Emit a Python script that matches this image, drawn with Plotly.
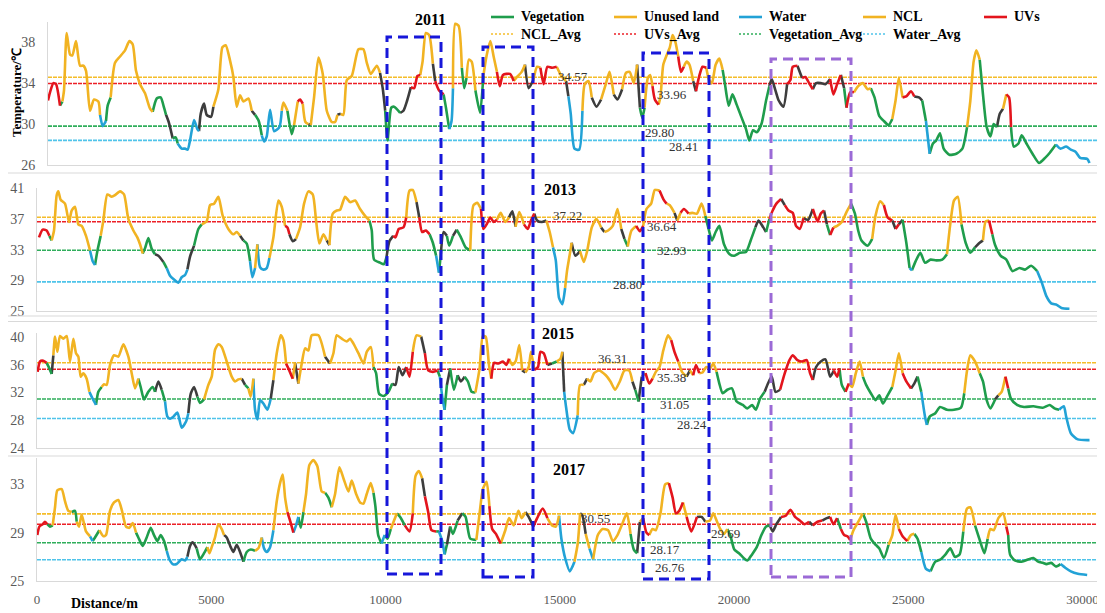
import plotly.graph_objects as go

# reference canvas is 1105x613; the page body adds an 8px offset, so the figure is
# drawn 8px smaller and every layout position is shifted by that offset.
REF_W, REF_H = 1105, 613
OFF = 8
W, H = REF_W - OFF, REF_H - OFF

years = ["2011", "2013", "2015", "2017"]
ncl_avg = [34.57, 37.22, 36.31, 30.55]
uvs_avg = [33.96, 36.64, 35.38, 29.69]
veg_avg = [29.80, 32.93, 31.05, 28.17]
water_avg = [28.41, 28.80, 28.24, 26.76]
y_ranges = [[26, 40], [25, 41], [24, 40.6], [25, 35.15]]
y_ticks = [[26, 30, 34, 38], [25, 29, 33, 37, 41], [24, 28, 32, 36, 40], [25, 29, 33]]
x_ticks = [0, 5000, 10000, 15000, 20000, 25000, 30000]
legend_names = [["Vegetation", "Unused land", "Water", "NCL", "UVs"],
                ["NCL_Avg", "UVs_Avg", "Vegetation_Avg", "Water_Avg"]]

# (distance m, temperature C, class of segment ending at this point)
# G = Vegetation, O = NCL / unused land, B = Water, R = UVs, K = other (grey)
profile_2011 = [
(0,32.3,"R"),(58,33.1,"R"),(155,34.0,"R"),(232,33.9,"R"),(348,31.8,"R"),(416,32.2,"G"),(464,33.3,"O"),
(541,38.9,"O"),(638,36.8,"O"),(706,36.7,"O"),(812,38.1,"O"),(928,35.7,"O"),(1025,35.7,"O"),(1102,35.2,"O"),
(1218,31.3,"O"),(1334,32.4,"O"),(1460,32.2,"O"),(1508,30.9,"O"),(1585,29.8,"B"),(1682,30.3,"B"),(1730,31.8,"G"),
(1817,32.6,"G"),(1943,36.0,"O"),(2088,36.6,"O"),(2233,37.2,"O"),(2359,38.1,"O"),(2455,37.8,"O"),(2552,35.2,"O"),
(2668,33.9,"O"),(2813,33.0,"O"),(2958,31.5,"O"),(3036,31.2,"O"),(3152,32.5,"G"),(3267,32.6,"G"),(3364,31.6,"G"),
(3422,30.9,"G"),(3509,30.1,"K"),(3615,28.6,"K"),(3702,28.7,"G"),(3760,28.1,"G"),(3876,27.6,"B"),(3973,27.6,"B"),
(4050,27.5,"B"),(4118,28.4,"B"),(4234,30.4,"B"),(4331,29.5,"B"),(4379,29.3,"B"),(4428,31.0,"K"),(4524,32.0,"K"),
(4601,30.9,"K"),(4727,30.7,"K"),(4795,31.7,"K"),(4940,33.4,"O"),(5056,37.5,"O"),(5152,37.7,"O"),(5278,36.2,"O"),
(5375,34.6,"O"),(5471,31.7,"O"),(5568,32.8,"O"),(5665,32.2,"O"),(5810,32.5,"O"),(5907,31.3,"O"),(6003,30.9,"K"),
(6110,30.3,"G"),(6197,28.9,"G"),(6264,28.3,"B"),(6342,28.8,"B"),(6438,31.4,"B"),(6554,29.3,"B"),(6709,29.7,"B"),
(6777,31.3,"B"),(6825,32.1,"O"),(6941,31.3,"O"),(7067,29.0,"G"),(7134,29.9,"G"),(7241,32.2,"O"),(7308,32.4,"R"),
(7386,32.0,"R"),(7463,30.2,"O"),(7550,30.0,"O"),(7618,29.9,"K"),(7714,32.6,"O"),(7840,36.5,"O"),(7966,34.9,"O"),
(8082,31.3,"O"),(8227,30.2,"O"),(8323,30.2,"O"),(8391,30.9,"O"),(8488,31.0,"K"),(8565,30.9,"O"),(8662,34.3,"O"),
(8807,34.7,"O"),(9000,37.3,"O"),(9145,37.3,"O"),(9242,36.0,"O"),(9358,34.9,"O"),(9532,35.7,"O"),(9627,35.0,"O"),
(9708,33.4,"K"),(9776,31.3,"K"),(9844,28.4,"G"),(9952,31.6,"G"),(10034,31.7,"G"),(10210,31.1,"G"),(10305,31.3,"K"),
(10413,32.3,"K"),(10521,33.6,"K"),(10616,33.5,"R"),(10711,34.7,"R"),(10792,34.8,"R"),(10860,36.1,"O"),(10955,38.9,"O"),
(11050,38.7,"O"),(11158,35.9,"O"),(11226,34.2,"K"),(11334,33.3,"R"),(11470,32.9,"R"),(11538,31.6,"G"),(11633,29.5,"G"),
(11700,30.3,"B"),(11741,33.5,"B"),(11809,39.8,"O"),(11904,39.6,"O"),(11998,35.5,"O"),(12066,33.5,"G"),(12134,34.5,"G"),
(12202,36.3,"O"),(12283,36.1,"O"),(12391,33.3,"O"),(12527,31.1,"G"),(12622,34.7,"G"),(12717,36.7,"O"),(12825,38.1,"O"),
(12920,36.6,"O"),(13015,35.1,"O"),(13096,33.7,"R"),(13191,34.8,"R"),(13394,34.9,"R"),(13502,34.2,"R"),(13597,34.6,"O"),
(13733,35.1,"O"),(13828,35.8,"O"),(13936,33.5,"K"),(14072,34.3,"K"),(14180,35.6,"O"),(14275,35.5,"O"),(14370,33.9,"R"),
(14478,35.6,"R"),(14613,35.5,"R"),(14749,35.6,"R"),(14885,34.7,"O"),(15020,34.2,"O"),(15088,32.7,"K"),(15156,31.0,"B"),
(15264,27.6,"B"),(15400,27.5,"B"),(15494,31.3,"B"),(15562,33.9,"O"),(15670,34.2,"O"),(15765,32.6,"O"),(15901,31.7,"K"),
(16036,32.4,"K"),(16172,33.9,"O"),(16280,35.1,"O"),(16402,32.9,"O"),(16510,32.4,"K"),(16646,33.4,"K"),(16754,35.0,"O"),
(16863,35.1,"O"),(16985,34.0,"O"),(17080,35.8,"O"),(17161,31.6,"K"),(17229,30.6,"G"),(17296,31.6,"G"),(17391,34.5,"O"),
(17459,34.8,"O"),(17526,33.7,"O"),(17594,32.4,"R"),(17702,31.9,"R"),(17757,32.7,"O"),(17838,35.8,"O"),(17933,36.7,"O"),
(18028,37.5,"O"),(18109,38.7,"O"),(18190,38.0,"O"),(18272,36.6,"O"),(18353,35.1,"R"),(18434,35.6,"R"),(18516,36.1,"O"),
(18597,35.8,"O"),(18705,34.2,"O"),(18787,33.2,"K"),(18882,34.7,"R"),(18977,35.6,"R"),(19085,35.5,"R"),(19166,34.3,"O"),
(19248,34.0,"O"),(19356,35.8,"O"),(19464,36.4,"O"),(19559,35.3,"O"),(19627,33.9,"G"),(19735,31.8,"G"),(19844,32.9,"G"),
(19966,31.9,"G"),(20101,30.7,"G"),(20237,29.5,"G"),(20332,28.4,"G"),(20440,29.4,"G"),(20548,29.2,"G"),(20684,30.0,"G"),
(20819,32.3,"G"),(20914,33.7,"G"),(20982,34.4,"K"),(21090,33.3,"K"),(21185,32.3,"K"),(21321,31.7,"K"),(21429,33.9,"K"),
(21524,34.3,"R"),(21592,35.6,"R"),(21727,35.7,"R"),(21863,34.5,"K"),(21958,34.6,"R"),(22066,34.0,"R"),(22174,33.4,"R"),
(22269,34.0,"K"),(22405,34.0,"K"),(22540,33.9,"K"),(22676,34.4,"K"),(22771,32.9,"R"),(22879,33.9,"R"),(22987,34.8,"R"),
(23082,33.5,"K"),(23150,31.6,"G"),(23258,33.1,"R"),(23366,33.1,"R"),(23489,33.7,"O"),(23624,34.0,"O"),(23760,33.4,"O"),
(23855,33.5,"O"),(23963,32.6,"G"),(24098,30.8,"G"),(24234,30.3,"G"),(24370,29.9,"G"),(24478,30.5,"G"),(24573,32.3,"O"),
(24668,34.5,"O"),(24776,32.6,"O"),(24884,32.7,"R"),(25020,33.2,"R"),(25115,32.7,"R"),(25250,32.6,"K"),(25345,32.3,"K"),
(25454,30.3,"G"),(25562,27.1,"B"),(25657,28.1,"G"),(25752,28.4,"G"),(25860,29.1,"G"),(25968,27.6,"G"),(26131,27.0,"G"),
(26334,27.1,"G"),(26510,27.6,"G"),(26646,29.7,"G"),(26741,32.3,"O"),(26836,36.1,"O"),(26917,37.2,"O"),(27012,36.3,"O"),
(27107,32.9,"G"),(27215,29.7,"G"),(27323,28.8,"G"),(27418,30.0,"G"),(27513,29.7,"G"),(27594,31.0,"K"),(27689,31.5,"K"),
(27784,32.9,"O"),(27865,32.6,"R"),(27920,29.7,"R"),(28001,27.8,"G"),(28136,28.1,"G"),(28231,28.9,"G"),(28367,28.1,"G"),
(28543,27.1,"G"),(28733,26.2,"G"),(28909,26.7,"G"),(29045,27.2,"G"),(29221,28.0,"G"),(29356,27.6,"B"),(29519,27.8,"B"),
(29654,27.5,"B"),(29790,27.3,"B"),(29925,26.7,"B"),(30128,26.6,"B"),(30196,26.2,"B"),
]

profile_2013 = [
(57,34.6,"R"),(163,35.6,"R"),(277,35.5,"R"),(354,34.8,"R"),(421,34.2,"G"),(488,35.5,"O"),(564,40.1,"O"),(612,40.6,"O"),
(679,39.5,"O"),(803,39.0,"O"),(918,36.6,"O"),(995,38.1,"O"),(1090,38.6,"O"),(1186,36.3,"O"),(1282,36.1,"O"),(1406,34.8,"O"),
(1521,32.9,"O"),(1598,31.5,"B"),(1665,31.0,"B"),(1731,32.8,"G"),(1827,34.8,"G"),(1904,36.8,"O"),(2019,40.2,"O"),(2143,39.9,"O"),
(2239,40.1,"O"),(2382,40.6,"O"),(2497,40.2,"O"),(2621,37.0,"O"),(2765,35.5,"O"),(2879,34.6,"O"),(2956,33.7,"O"),(3033,32.5,"O"),
(3100,33.2,"G"),(3195,34.5,"G"),(3291,33.1,"G"),(3387,32.4,"G"),(3482,32.2,"K"),(3626,31.4,"K"),(3721,30.6,"G"),(3817,29.6,"B"),
(3932,29.1,"B"),(4056,28.7,"B"),(4152,29.4,"B"),(4248,29.7,"B"),(4315,30.4,"B"),(4391,32.1,"K"),(4506,33.5,"K"),(4630,35.7,"G"),
(4726,36.3,"G"),(4869,36.7,"O"),(4965,38.8,"O"),(5080,39.0,"O"),(5204,39.9,"O"),(5329,37.4,"O"),(5491,35.7,"O"),(5635,35.0,"O"),
(5731,35.3,"O"),(5826,34.8,"O"),(5922,34.2,"K"),(6018,33.8,"G"),(6113,31.5,"G"),(6180,29.4,"B"),(6257,30.6,"B"),(6324,33.7,"O"),
(6400,30.7,"B"),(6496,30.4,"B"),(6592,30.6,"B"),(6668,31.9,"B"),(6783,34.6,"O"),(6926,39.4,"O"),(7022,38.6,"O"),(7118,36.1,"O"),
(7185,35.9,"R"),(7242,35.0,"R"),(7338,34.1,"K"),(7433,34.4,"K"),(7548,35.9,"O"),(7663,39.0,"O"),(7787,40.6,"O"),(7912,40.2,"O"),
(8007,36.8,"O"),(8103,33.8,"O"),(8218,35.0,"O"),(8313,34.2,"O"),(8390,33.6,"K"),(8486,37.7,"O"),(8601,38.1,"O"),(8696,38.2,"O"),
(8840,39.9,"O"),(8983,39.2,"O"),(9127,39.4,"O"),(9270,38.3,"O"),(9414,37.4,"O"),(9538,36.8,"O"),(9605,35.5,"G"),(9672,31.7,"G"),
(9843,31.3,"G"),(9950,31.1,"G"),(10031,32.1,"G"),(10111,34.1,"K"),(10219,34.8,"K"),(10286,34.6,"R"),(10379,35.7,"R"),(10514,35.9,"R"),
(10594,37.2,"R"),(10688,40.7,"O"),(10782,40.8,"O"),(10889,39.2,"O"),(10969,37.2,"K"),(11050,35.3,"R"),(11157,35.5,"R"),(11264,35.0,"R"),
(11358,33.9,"G"),(11452,32.2,"G"),(11533,30.0,"B"),(11586,32.4,"G"),(11667,35.3,"K"),(11761,34.8,"K"),(11828,33.5,"G"),(11935,34.8,"G"),
(12042,35.6,"K"),(12163,34.6,"G"),(12297,33.3,"G"),(12431,32.9,"G"),(12525,38.8,"O"),(12632,39.1,"O"),(12739,38.3,"O"),(12806,35.7,"R"),
(12900,36.3,"R"),(13008,37.2,"R"),(13102,36.6,"R"),(13196,36.9,"R"),(13303,37.8,"O"),(13437,36.6,"O"),(13544,37.2,"O"),(13638,38.0,"K"),
(13732,36.0,"K"),(13839,37.9,"O"),(13973,36.3,"O"),(14080,35.7,"R"),(14174,36.8,"R"),(14268,37.7,"R"),(14349,36.8,"K"),(14483,36.6,"K"),
(14617,36.8,"K"),(14711,35.3,"O"),(14805,33.3,"O"),(14885,31.6,"B"),(14979,26.7,"B"),(15073,25.9,"B"),(15153,28.0,"B"),(15207,30.2,"O"),
(15287,32.4,"O"),(15341,33.9,"O"),(15448,32.2,"K"),(15582,32.8,"K"),(15690,31.4,"O"),(15784,32.8,"O"),(15918,35.9,"O"),(16052,37.0,"O"),
(16186,35.9,"O"),(16280,35.3,"K"),(16387,35.5,"O"),(16521,36.1,"O"),(16655,38.3,"O"),(16763,35.7,"O"),(16856,34.4,"K"),(16950,33.4,"G"),
(17058,35.5,"O"),(17192,36.1,"O"),(17299,35.4,"R"),(17393,36.1,"R"),(17487,38.3,"O"),(17621,39.0,"O"),(17728,40.8,"O"),(17862,40.7,"O"),
(17970,39.6,"R"),(18063,39.0,"R"),(18157,38.8,"O"),(18291,37.8,"O"),(18372,36.8,"K"),(18466,37.8,"O"),(18560,38.3,"R"),(18694,37.7,"R"),
(18801,37.8,"O"),(18935,37.7,"O"),(19069,39.0,"O"),(19176,37.4,"O"),(19270,35.7,"G"),(19364,34.2,"G"),(19471,35.3,"G"),(19578,36.1,"G"),
(19712,33.7,"G"),(19873,32.4,"G"),(20008,32.2,"G"),(20169,32.6,"G"),(20343,32.7,"G"),(20477,34.2,"G"),(20612,35.9,"G"),(20705,36.8,"K"),
(20839,35.9,"K"),(20920,35.3,"K"),(21014,37.0,"G"),(21108,38.1,"R"),(21215,39.0,"R"),(21349,39.6,"R"),(21456,38.8,"K"),(21563,38.1,"R"),
(21684,37.8,"R"),(21778,36.1,"R"),(21885,35.7,"R"),(21992,37.1,"R"),(22126,36.9,"K"),(22260,38.3,"K"),(22395,36.7,"R"),(22489,37.7,"R"),
(22582,38.1,"R"),(22663,36.3,"K"),(22757,34.9,"G"),(22851,35.9,"R"),(22958,36.1,"O"),(23092,36.6,"O"),(23226,37.9,"O"),(23360,39.0,"O"),
(23468,37.7,"G"),(23562,35.5,"G"),(23656,34.2,"G"),(23830,33.5,"G"),(23964,34.4,"G"),(24058,37.4,"O"),(24192,39.3,"O"),(24299,38.8,"O"),
(24406,37.2,"R"),(24541,36.8,"R"),(24635,35.7,"K"),(24729,36.3,"R"),(24836,36.9,"K"),(24943,33.9,"G"),(25037,30.6,"G"),(25104,30.3,"B"),
(25211,31.5,"G"),(25345,32.6,"G"),(25479,31.3,"G"),(25640,31.7,"G"),(25801,31.6,"G"),(25975,31.7,"G"),(26109,32.4,"G"),(26203,36.3,"O"),
(26310,39.4,"O"),(26417,39.9,"O"),(26525,36.3,"O"),(26645,33.9,"G"),(26779,32.6,"G"),(26914,33.3,"G"),(27048,33.9,"K"),(27142,34.2,"K"),
(27222,36.7,"O"),(27316,36.8,"O"),(27410,35.0,"R"),(27490,33.6,"G"),(27651,32.2,"G"),(27812,31.7,"G"),(27986,30.2,"G"),(28187,30.6,"G"),
(28348,30.4,"G"),(28523,30.9,"G"),(28697,30.2,"G"),(28831,28.7,"B"),(28965,26.9,"B"),(29099,26.0,"B"),(29260,25.8,"B"),(29395,25.4,"B"),
(29623,25.3,"B"),
]

profile_2015 = [
(19,35.0,"R"),(86,36.5,"R"),(182,36.6,"R"),(277,36.3,"R"),(354,35.5,"G"),(421,34.7,"G"),(469,37.4,"K"),(517,40.1,"O"),
(583,37.9,"O"),(660,40.2,"O"),(755,39.8,"O"),(851,40.2,"O"),(947,36.5,"O"),(1043,39.8,"O"),(1119,37.7,"O"),(1186,37.2,"O"),
(1253,34.3,"O"),(1330,34.8,"O"),(1425,34.0,"O"),(1502,32.1,"O"),(1598,31.1,"B"),(1693,30.2,"B"),(1760,32.1,"G"),(1856,32.8,"G"),
(1923,33.2,"O"),(1999,33.1,"O"),(2095,36.0,"O"),(2210,37.4,"O"),(2334,37.2,"O"),(2478,39.0,"O"),(2621,37.2,"O"),(2717,34.8,"O"),
(2813,32.6,"O"),(2908,34.0,"O"),(2975,32.8,"G"),(3071,31.0,"G"),(3195,32.1,"G"),(3320,32.8,"G"),(3387,32.1,"G"),(3482,33.6,"K"),
(3578,32.4,"K"),(3674,30.7,"G"),(3741,28.5,"B"),(3817,28.2,"B"),(3912,28.5,"B"),(4027,29.1,"B"),(4152,26.9,"B"),(4276,27.8,"B"),
(4343,29.0,"B"),(4410,31.8,"K"),(4506,32.8,"K"),(4601,31.4,"K"),(4678,30.5,"G"),(4793,31.0,"G"),(4917,33.1,"O"),(5013,34.3,"O"),
(5108,38.2,"O"),(5204,39.0,"O"),(5300,38.6,"O"),(5443,36.5,"O"),(5587,34.3,"O"),(5683,33.6,"O"),(5778,33.9,"O"),(5874,34.0,"O"),
(5970,33.1,"K"),(6066,32.6,"G"),(6132,31.4,"O"),(6209,34.0,"O"),(6256,29.5,"B"),(6324,28.1,"B"),(6400,30.9,"B"),(6496,30.4,"B"),
(6611,29.5,"B"),(6706,31.1,"B"),(6783,33.8,"K"),(6879,37.7,"O"),(6993,40.3,"O"),(7070,39.6,"O"),(7146,36.2,"O"),(7213,35.5,"R"),
(7338,34.0,"R"),(7405,36.3,"O"),(7500,33.3,"K"),(7596,36.2,"O"),(7692,38.4,"O"),(7787,38.1,"O"),(7883,40.3,"O"),(8074,40.3,"O"),
(8265,37.2,"O"),(8409,36.2,"K"),(8505,37.7,"O"),(8600,40.3,"O"),(8744,39.8,"O"),(8887,39.4,"O"),(8983,39.8,"O"),(9079,39.1,"O"),
(9222,37.7,"O"),(9366,36.2,"O"),(9461,37.9,"O"),(9576,38.6,"O"),(9653,35.7,"O"),(9729,34.8,"G"),(9816,31.8,"G"),(9950,31.5,"G"),
(10084,32.1,"G"),(10192,33.3,"G"),(10286,33.1,"K"),(10379,35.7,"K"),(10487,34.5,"K"),(10594,35.7,"K"),(10688,34.3,"R"),(10782,37.9,"R"),
(10889,40.3,"O"),(11023,40.1,"O"),(11130,37.7,"K"),(11224,35.2,"R"),(11358,35.0,"R"),(11492,35.2,"R"),(11559,34.3,"G"),(11627,31.4,"B"),
(11694,29.5,"B"),(11761,33.1,"G"),(11855,35.5,"K"),(11962,32.4,"G"),(12069,34.5,"G"),(12163,33.6,"K"),(12270,34.3,"K"),(12364,33.6,"G"),
(12471,32.1,"G"),(12579,32.0,"G"),(12699,35.5,"O"),(12793,40.2,"O"),(12874,40.1,"O"),(12968,36.0,"O"),(13035,34.0,"O"),(13115,36.3,"R"),
(13236,36.2,"R"),(13370,36.5,"R"),(13464,36.0,"R"),(13544,36.9,"R"),(13638,36.0,"O"),(13732,36.5,"O"),(13839,38.9,"O"),(13920,35.2,"O"),
(14013,34.9,"K"),(14107,35.7,"O"),(14174,37.9,"O"),(14268,35.3,"O"),(14375,35.7,"R"),(14443,37.9,"R"),(14537,37.7,"R"),(14644,36.0,"R"),
(14778,36.2,"K"),(14912,36.5,"G"),(15019,36.9,"O"),(15073,37.9,"O"),(15126,32.1,"K"),(15180,29.9,"B"),(15287,26.6,"B"),(15381,26.1,"B"),
(15515,28.7,"B"),(15582,33.1,"O"),(15690,33.1,"O"),(15784,34.0,"K"),(15878,33.6,"O"),(15985,34.8,"O"),(16119,35.2,"O"),(16320,34.5,"O"),
(16454,33.6,"O"),(16588,32.4,"O"),(16722,33.6,"O"),(16856,35.2,"O"),(16990,35.2,"O"),(17084,33.6,"O"),(17165,32.4,"K"),(17259,30.7,"G"),
(17353,34.3,"K"),(17460,34.8,"O"),(17567,33.3,"R"),(17661,34.0,"R"),(17755,35.0,"O"),(17862,35.7,"O"),(17970,38.1,"O"),(18104,40.3,"O"),
(18197,39.6,"O"),(18291,37.9,"R"),(18399,36.5,"R"),(18506,35.0,"O"),(18640,34.3,"O"),(18734,35.2,"K"),(18828,34.5,"O"),(18908,36.0,"R"),
(19002,34.8,"R"),(19096,34.9,"O"),(19203,35.7,"O"),(19310,35.5,"O"),(19404,36.2,"O"),(19498,35.0,"O"),(19578,33.3,"G"),(19672,31.9,"G"),
(19806,32.4,"G"),(19940,32.6,"G"),(20074,30.7,"G"),(20249,30.2,"G"),(20383,29.7,"G"),(20517,30.2,"G"),(20625,29.5,"G"),(20745,31.1,"G"),
(20879,32.1,"G"),(20973,33.3,"K"),(21081,34.3,"K"),(21188,32.1,"K"),(21322,32.4,"K"),(21456,34.8,"R"),(21590,36.7,"R"),(21684,37.4,"R"),
(21818,36.7,"R"),(21952,36.5,"R"),(22086,36.7,"R"),(22180,34.8,"R"),(22260,33.8,"R"),(22354,35.7,"K"),(22489,36.5,"K"),(22623,36.8,"K"),
(22757,34.3,"K"),(22864,35.2,"K"),(22958,34.3,"R"),(23025,35.5,"R"),(23092,33.1,"G"),(23199,32.1,"G"),(23293,33.3,"R"),(23387,32.8,"O"),
(23494,34.8,"O"),(23602,36.5,"O"),(23696,34.3,"O"),(23790,33.1,"G"),(23924,31.9,"G"),(24058,30.9,"G"),(24165,31.6,"G"),(24272,30.4,"G"),
(24406,31.6,"G"),(24541,32.8,"G"),(24635,35.2,"O"),(24729,37.7,"O"),(24836,34.8,"O"),(24943,33.6,"R"),(25077,32.6,"R"),(25171,33.3,"K"),
(25265,34.3,"K"),(25372,32.1,"G"),(25479,28.5,"B"),(25533,27.3,"B"),(25613,28.5,"G"),(25774,29.0,"G"),(25909,29.9,"G"),(26109,29.5,"G"),
(26310,29.5,"G"),(26511,29.8,"G"),(26605,31.9,"G"),(26685,35.2,"O"),(26779,37.4,"O"),(26914,36.5,"O"),(27048,34.8,"O"),(27142,33.6,"G"),
(27249,30.9,"G"),(27356,29.7,"G"),(27490,31.0,"G"),(27584,31.6,"K"),(27678,32.1,"O"),(27785,34.3,"O"),(27865,32.6,"R"),(27946,31.1,"G"),
(28120,30.2,"G"),(28321,29.9,"G"),(28589,30.0,"G"),(28858,29.8,"G"),(29059,30.2,"G"),(29193,29.7,"G"),(29328,29.5,"G"),(29462,30.0,"B"),
(29529,28.5,"B"),(29663,26.1,"B"),(29864,25.2,"B"),(30199,25.1,"B"),
]

profile_2017 = [
(9,28.8,"K"),(67,29.5,"R"),(163,29.7,"R"),(229,29.9,"R"),(296,29.7,"R"),(373,29.5,"G"),(450,29.6,"G"),(517,31.1,"O"),
(583,32.5,"O"),(708,32.6,"O"),(803,31.6,"O"),(899,30.8,"O"),(995,30.7,"O"),(1090,30.8,"G"),(1138,29.9,"G"),(1205,29.5,"O"),
(1282,30.5,"O"),(1406,29.1,"O"),(1521,28.7,"O"),(1598,28.3,"B"),(1665,28.6,"G"),(1789,29.2,"G"),(1904,28.7,"O"),(1980,28.8,"O"),
(2095,30.8,"O"),(2210,31.5,"O"),(2334,31.7,"O"),(2430,30.9,"O"),(2554,29.5,"O"),(2650,29.4,"O"),(2746,29.8,"O"),(2841,29.0,"O"),
(2908,28.6,"G"),(3033,27.9,"G"),(3147,28.6,"G"),(3262,29.4,"G"),(3358,28.8,"G"),(3454,28.3,"G"),(3549,28.8,"G"),(3645,28.3,"G"),
(3722,27.5,"G"),(3798,26.8,"B"),(3894,26.4,"B"),(4008,26.4,"B"),(4152,26.8,"B"),(4248,26.7,"B"),(4315,27.0,"B"),(4391,27.9,"K"),
(4468,28.2,"K"),(4582,27.7,"K"),(4678,26.8,"G"),(4793,27.3,"G"),(4889,27.8,"G"),(4946,27.3,"O"),(5013,27.8,"O"),(5108,28.6,"O"),
(5204,29.7,"O"),(5300,29.3,"O"),(5367,28.8,"O"),(5443,28.6,"K"),(5558,27.8,"K"),(5635,27.4,"K"),(5731,28.0,"K"),(5826,27.4,"K"),
(5922,26.6,"K"),(6018,27.4,"G"),(6132,27.6,"G"),(6256,27.5,"G"),(6352,27.7,"O"),(6448,28.6,"O"),(6515,27.7,"B"),(6592,27.4,"B"),
(6687,27.8,"B"),(6783,29.2,"B"),(6879,31.6,"O"),(6974,33.1,"O"),(7051,33.8,"O"),(7118,31.9,"O"),(7185,30.7,"O"),(7261,30.0,"R"),
(7357,29.0,"R"),(7433,29.6,"B"),(7500,30.3,"B"),(7567,29.4,"G"),(7644,30.7,"G"),(7720,32.2,"O"),(7816,34.6,"O"),(7931,35.0,"O"),
(8044,34.5,"O"),(8170,32.4,"O"),(8266,32.3,"O"),(8361,31.9,"G"),(8457,31.1,"G"),(8553,32.2,"O"),(8677,34.4,"O"),(8792,33.5,"O"),
(8935,32.4,"O"),(9031,33.3,"O"),(9156,32.2,"O"),(9270,31.5,"O"),(9366,31.4,"O"),(9461,32.2,"O"),(9576,33.1,"O"),(9655,32.3,"O"),
(9709,31.2,"G"),(9789,28.8,"G"),(9883,28.1,"G"),(9977,28.8,"B"),(10058,28.5,"G"),(10151,29.3,"G"),(10245,30.0,"O"),(10326,30.6,"O"),
(10420,30.3,"G"),(10554,29.6,"G"),(10688,29.1,"R"),(10782,30.6,"R"),(10862,33.7,"O"),(10956,34.1,"O"),(11050,33.5,"O"),(11130,32.0,"K"),
(11224,30.7,"R"),(11318,29.2,"R"),(11452,29.1,"R"),(11533,29.1,"G"),(11627,28.3,"B"),(11694,27.2,"B"),(11761,28.0,"G"),(11855,29.5,"K"),
(11935,28.9,"G"),(12069,30.0,"G"),(12203,30.6,"K"),(12297,30.3,"G"),(12431,28.5,"G"),(12606,28.4,"G"),(12699,30.6,"O"),(12793,32.6,"O"),
(12900,33.2,"O"),(12980,31.2,"O"),(13061,29.3,"R"),(13168,28.9,"R"),(13303,28.1,"R"),(13437,29.2,"O"),(13544,30.2,"O"),(13678,29.6,"O"),
(13812,30.8,"O"),(13906,30.2,"O"),(14013,30.7,"O"),(14107,30.3,"K"),(14241,29.5,"K"),(14349,30.2,"R"),(14510,31.0,"R"),(14644,30.2,"R"),
(14778,29.6,"O"),(14885,29.5,"O"),(14979,30.4,"O"),(15046,28.5,"B"),(15153,26.9,"B"),(15287,25.8,"B"),(15421,26.6,"B"),(15515,28.1,"O"),
(15582,30.6,"O"),(15649,30.4,"K"),(15743,28.9,"K"),(15850,27.7,"O"),(15957,26.8,"B"),(16092,28.8,"O"),(16226,29.3,"O"),(16387,29.2,"O"),
(16521,28.3,"O"),(16655,28.8,"O"),(16789,29.7,"O"),(16923,30.6,"O"),(17030,28.9,"O"),(17124,27.6,"G"),(17219,27.3,"G"),(17299,29.9,"K"),
(17393,30.2,"O"),(17487,29.0,"R"),(17567,28.8,"R"),(17661,29.3,"O"),(17755,29.2,"O"),(17889,30.6,"O"),(18023,33.0,"O"),(18130,33.1,"O"),
(18238,31.9,"R"),(18332,30.6,"R"),(18426,30.8,"R"),(18533,31.5,"R"),(18640,30.3,"O"),(18774,29.1,"R"),(18935,30.3,"R"),(19069,30.3,"K"),
(19176,29.9,"K"),(19310,30.0,"O"),(19404,30.6,"O"),(19498,30.0,"O"),(19605,29.3,"O"),(19712,28.9,"O"),(19806,29.3,"O"),(19900,28.7,"G"),
(20008,27.6,"G"),(20142,27.3,"G"),(20276,26.9,"G"),(20383,26.7,"G"),(20517,27.2,"G"),(20651,27.8,"G"),(20786,28.8,"G"),(20920,29.5,"G"),
(21027,29.6,"G"),(21108,29.1,"K"),(21215,29.7,"K"),(21349,30.3,"K"),(21483,30.4,"R"),(21617,30.9,"R"),(21751,30.3,"R"),(21885,30.0,"R"),
(22019,29.7,"R"),(22153,29.9,"R"),(22260,29.6,"K"),(22395,29.9,"R"),(22529,30.0,"R"),(22663,30.2,"K"),(22757,30.3,"K"),(22851,29.7,"R"),
(22958,30.2,"R"),(23065,29.3,"G"),(23159,28.8,"R"),(23253,28.7,"R"),(23333,28.4,"R"),(23427,29.2,"O"),(23562,29.9,"O"),(23696,30.6,"O"),
(23790,29.9,"G"),(23924,28.5,"G"),(24031,28.1,"G"),(24165,27.7,"G"),(24299,26.9,"G"),(24433,28.0,"G"),(24541,28.8,"O"),(24635,30.5,"O"),
(24729,29.3,"O"),(24836,28.7,"R"),(24970,28.3,"R"),(25077,28.8,"O"),(25171,28.9,"O"),(25265,28.5,"G"),(25372,27.4,"G"),(25506,26.0,"B"),
(25640,25.8,"B"),(25774,26.6,"G"),(25935,26.8,"G"),(26069,27.2,"G"),(26203,27.7,"G"),(26337,27.0,"G"),(26471,27.2,"G"),(26578,29.1,"G"),
(26685,31.0,"O"),(26779,31.1,"O"),(26914,29.6,"O"),(27048,28.4,"G"),(27182,27.3,"G"),(27276,28.5,"G"),(27356,29.3,"O"),(27450,29.2,"O"),
(27584,30.2,"O"),(27718,30.6,"O"),(27812,29.5,"O"),(27866,28.8,"R"),(27919,27.2,"G"),(28053,26.7,"G"),(28254,26.6,"G"),(28455,26.8,"G"),
(28589,26.9,"G"),(28724,26.6,"G"),(28858,26.5,"G"),(28965,26.4,"G"),(29099,26.5,"G"),(29233,26.2,"G"),(29368,26.4,"G"),(29502,26.1,"B"),
(29663,25.8,"B"),(29864,25.6,"B"),(30132,25.5,"B"),
]

profiles = [profile_2011, profile_2013, profile_2015, profile_2017]

# ---------------------------------------------------------------- styling
COL = {"G": "#1f9d4c", "O": "#f1b322", "B": "#22a2d6", "R": "#e3151d", "K": "#3d3d3d"}
NAME = {"G": "Vegetation", "O": "NCL", "B": "Water", "R": "UVs", "K": "Other"}
AVG_COL = {"NCL_Avg": "#f5bd2a", "UVs_Avg": "#ec2027", "Vegetation_Avg": "#2fae5b", "Water_Avg": "#4fc4ea"}
LEG_COL = {"Vegetation": COL["G"], "Unused land": COL["O"], "Water": COL["B"], "NCL": COL["O"], "UVs": COL["R"]}
SERIF = "Liberation Serif"


def px2x(px):
    return (px - OFF) / W


def py2y(py):
    return 1 - (py - OFF) / H


# panel geometry in reference pixels: (left, right, top, bottom)
panels_px = [(48, 1100, 21.7, 165), (37, 1100, 188.3, 311), (37, 1100, 333.2, 447.7), (37, 1100, 458.3, 581)]
X_MAX = 30500


def runs(rows, code):
    xs, ys = [], []
    prev = False
    for i in range(1, len(rows)):
        if rows[i][2] == code:
            if not prev:
                if xs:
                    xs.append(None); ys.append(None)
                xs.append(rows[i - 1][0]); ys.append(rows[i - 1][1])
            xs.append(rows[i][0]); ys.append(rows[i][1])
            prev = True
        else:
            prev = False
    return xs, ys


def label(text, px, py, size, color="black", xanchor="center", angle=0):
    fig.add_annotation(text=text, x=px2x(px), y=py2y(py), xref="paper", yref="paper",
                       xanchor=xanchor, yanchor="middle", textangle=angle, showarrow=False,
                       font=dict(family=SERIF, size=size, color=color))


fig = go.Figure()

for k, rows in enumerate(profiles):
    xa = "x" if k == 0 else f"x{k+1}"
    ya = "y" if k == 0 else f"y{k+1}"
    for nm, val in (("NCL_Avg", ncl_avg[k]), ("UVs_Avg", uvs_avg[k]),
                    ("Vegetation_Avg", veg_avg[k]), ("Water_Avg", water_avg[k])):
        fig.add_trace(go.Scatter(
            x=[0, X_MAX], y=[val, val], mode="lines", xaxis=xa, yaxis=ya,
            line=dict(color=AVG_COL[nm], width=1.6, dash="4px,1px"),
            name=nm, showlegend=False, hoverinfo="skip"))
    for code in ["K", "G", "B", "O", "R"]:
        xs, ys = runs(rows, code)
        fig.add_trace(go.Scatter(
            x=xs, y=ys, mode="lines", xaxis=xa, yaxis=ya,
            line=dict(color=COL[code], width=2.6, shape="spline", smoothing=0.6),
            name=NAME[code], showlegend=False, connectgaps=False))

layout = dict(
    width=W, height=H, margin=dict(l=0, r=0, t=0, b=0, autoexpand=False),
    paper_bgcolor="white", plot_bgcolor="white",
    font=dict(family=SERIF, color="#404040"),
    showlegend=False,
)

for k, (l, r, t, b) in enumerate(panels_px):
    sfx = "" if k == 0 else str(k + 1)
    layout["xaxis" + sfx] = dict(
        domain=[px2x(l), px2x(r)], range=[0, X_MAX], anchor="y" + sfx,
        showline=True, linecolor="#d9d9d9", linewidth=1, showgrid=False, zeroline=False,
        tickvals=x_ticks, tickformat="d", showticklabels=(k == 3), ticks="",
        tickfont=dict(family=SERIF, size=13, color="#595959"), ticklabelstandoff=6)
    layout["yaxis" + sfx] = dict(
        domain=[py2y(b), py2y(t)], range=y_ranges[k], anchor="x" + sfx,
        showline=True, linecolor="#d9d9d9", linewidth=1, showgrid=False, zeroline=False,
        tickvals=y_ticks[k], ticks="", ticklabelstandoff=9,
        tickfont=dict(family=SERIF, size=14, color="#595959"))

fig.update_layout(**layout)

# separators between the stacked charts
for py in (173, 316, 321.5, 456):
    fig.add_shape(type="line", xref="paper", yref="paper", x0=px2x(8), x1=1, y0=py2y(py), y1=py2y(py),
                  line=dict(color="#d9d9d9", width=1))

# dashed highlight boxes
boxes = [(387, 441, 37, 574, "#1717d9"), (483, 533, 47, 577, "#1717d9"),
         (643, 709, 53, 579, "#1717d9"), (771, 851, 59, 577, "#9b6ad6")]
for x0, x1, y0, y1, c in boxes:
    fig.add_shape(type="rect", xref="paper", yref="paper", x0=px2x(x0), x1=px2x(x1),
                  y0=py2y(y1), y1=py2y(y0), line=dict(color=c, width=3, dash="10px,6px"),
                  fillcolor="rgba(0,0,0,0)")

# legend (two rows, five columns)
col_x = [491, 614, 739, 863, 984]
row_y = [17, 34]
for r, names in enumerate(legend_names):
    for c, nm in enumerate(names):
        x0 = col_x[c]
        yy = py2y(row_y[r])
        if r == 0:
            ln = dict(color=LEG_COL[nm], width=2.6)
        else:
            ln = dict(color=AVG_COL[nm], width=1.5, dash="2px,2px")
        fig.add_shape(type="line", xref="paper", yref="paper", x0=px2x(x0), x1=px2x(x0 + 23),
                      y0=yy, y1=yy, line=ln)
        label(f"<b>{nm}</b>", x0 + 28, row_y[r], 14, xanchor="left")

# year labels
for txt, (cx, cy) in zip(years, [(430, 20), (560, 189), (558, 333), (569, 469)]):
    label(f"<b>{txt}</b>", cx, cy, 16)

# average value labels
label_pos = [
    [(573, 76), (672, 95), (659, 132), (683, 146)],
    [(567, 215), (662, 227), (672, 251), (627, 284)],
    [(612, 358), (671, 377), (674, 404), (692, 424)],
    [(595, 518), (726, 533), (665, 549), (670, 567)],
]
for k in range(4):
    vals = [ncl_avg[k], uvs_avg[k], veg_avg[k], water_avg[k]]
    for v, (cx, cy) in zip(vals, label_pos[k]):
        label(f"{v:.2f}", cx, cy, 13, color="#333333")

label("<b>Temperature/℃</b>", 17, 93, 13, angle=-90)
label("<b>Distance/m</b>", 104, 603, 14)

fig.write_html("out.html")
